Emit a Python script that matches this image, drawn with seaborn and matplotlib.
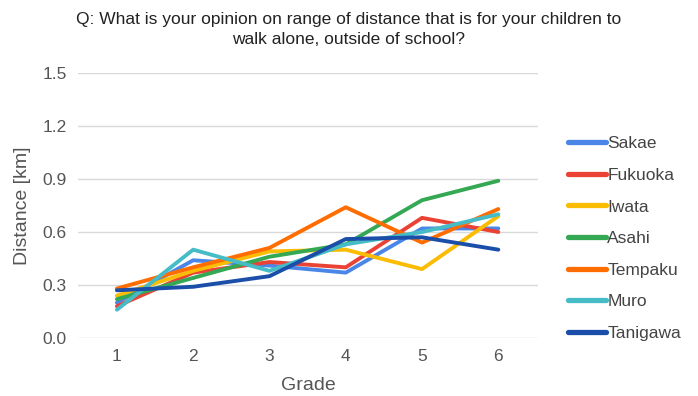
import numpy as np
import pandas as pd
import seaborn as sns
import matplotlib.pyplot as plt

grades = [1, 2, 3, 4, 5, 6]
sakae = [0.20, 0.44, 0.41, 0.37, 0.62, 0.62]
fukuoka = [0.18, 0.37, 0.43, 0.40, 0.68, 0.60]
iwata = [0.24, 0.38, 0.49, 0.50, 0.39, 0.69]
asahi = [0.22, 0.34, 0.46, 0.53, 0.78, 0.89]
tempaku = [0.28, 0.40, 0.51, 0.74, 0.54, 0.73]
muro = [0.16, 0.50, 0.38, 0.53, 0.60, 0.70]
tanigawa = [0.27, 0.29, 0.35, 0.56, 0.57, 0.50]

schools = ["Sakae", "Fukuoka", "Iwata", "Asahi", "Tempaku", "Muro", "Tanigawa"]
colors = ["#4a86e8", "#ea4335", "#fbbc04", "#34a853", "#ff6d01", "#46bdc6", "#1a4ea8"]

series = [sakae, fukuoka, iwata, asahi, tempaku, muro, tanigawa]
rows = []
for name, vals in zip(schools, series):
    for g, v in zip(grades, vals):
        rows.append({"Grade": g, "Distance": v, "School": name})
df = pd.DataFrame(rows)

sns.set_style("white")
plt.rcParams['font.family'] = ['Liberation Sans', 'DejaVu Sans']

fig = plt.figure(figsize=(6.98, 3.96), dpi=100)
ax = fig.add_axes([78 / 698, 1 - 338 / 396, 460 / 698, 265 / 396])

sns.lineplot(data=df, x="Grade", y="Distance", hue="School", hue_order=schools,
             palette=colors, linewidth=2.8, ax=ax, legend=True)

ax.set_xlim(0.49, 6.52)
ax.set_ylim(0, 1.5)
ax.set_yticks([0.0, 0.3, 0.6, 0.9, 1.2, 1.5])
ax.set_yticklabels(["0.0", "0.3", "0.6", "0.9", "1.2", "1.5"])
ax.set_xticks(grades)
ax.yaxis.grid(True, color="#d9d9d9", linewidth=1)
ax.set_axisbelow(True)
for s in ax.spines.values():
    s.set_visible(False)
ax.tick_params(axis="both", length=0, colors="#555555", labelsize=12.5, pad=8)

ax.set_xlabel("Grade", fontsize=14, color="#555555", labelpad=9)
ax.set_ylabel("Distance [km]", fontsize=14, color="#555555", labelpad=8)

fig.suptitle("Q: What is your opinion on range of distance that is for your children to\nwalk alone, outside of school?",
             x=0.5, y=0.97, fontsize=12.5, color="#222222", linespacing=1.45)

leg = ax.legend(loc="center left", bbox_to_anchor=(1.0, 0.375), frameon=False,
                fontsize=12.5, handlelength=2.2, handletextpad=0.1,
                labelspacing=0.95, borderaxespad=1.3)
for line in leg.get_lines():
    line.set_linewidth(3.8)
for t in leg.get_texts():
    t.set_color("#444444")

fig.savefig("out.png", dpi=100)
